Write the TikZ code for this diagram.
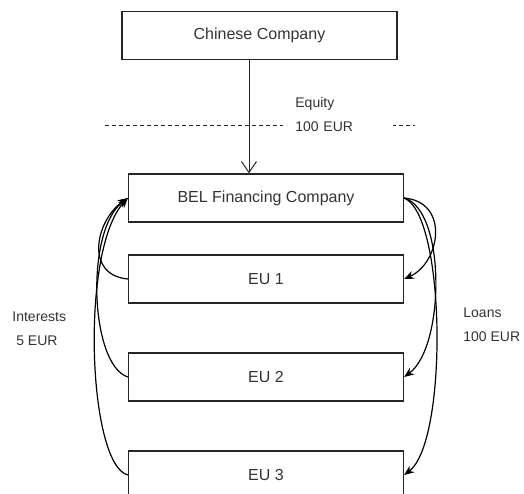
\documentclass[tikz,border=0pt]{standalone}
\usepackage{fontspec}
\setmainfont{Liberation Sans}
\usetikzlibrary{arrows.meta}

\begin{document}
\begin{tikzpicture}[x=0.5pt,y=-0.5pt,
    box/.style={draw=black!85,line width=0.6pt,minimum width=137.5pt,minimum height=24pt,
        inner sep=0pt,font=\fontsize{8}{9.6}\selectfont,text=black!80},
    lbl/.style={align=left,inner sep=0pt,font=\fontsize{7}{12}\selectfont,text=black!80},
    flow/.style={line width=0.6pt,-{Stealth[length=5pt,width=4pt]}}]
    \useasboundingbox (0,0) rectangle (524,493);
    % boxes
    \node[box] (chinese) at (259.5,35.5) {Chinese Company};
    \node[box] (bel) at (266,198) {BEL Financing Company};
    \foreach \i in {1,2,3}
        \node[box] (eu\i) at (266,279+98*\i-98) {EU \i};
    % equity
    \draw[black!85,line width=0.5pt,dash pattern=on 2pt off 1.5pt] (105,125) -- (415,125);
    \node[lbl,fill=white,anchor=west,inner xsep=6pt,inner ysep=3pt,text width=43pt] (equity) at (283,114) {Equity\\100 EUR};
    \draw[black!85,line width=0.5pt,-{Straight Barb[length=5.5pt,width=7.5pt,line width=0.5pt]}]
        ([xshift=-5.25pt]chinese.south) -- ([xshift=-5.25pt]chinese.south |- bel.north);
    % interests
    \draw[flow] (eu1.west) .. controls +(-44,-4) and +(-32,22) .. (bel.west);
    \draw[flow] (eu2.west) .. controls +(-38,-12) and +(-43,32) .. (bel.west);
    \draw[flow] (eu3.west) .. controls +(-40,-10) and +(-48,52) .. (bel.west);
    \node[lbl,anchor=west] (interests) at (12,328.5) {Interests\\\ 5 EUR};
    % loans
    \draw[flow] (bel.east) .. controls +(46,4) and +(36,-16) .. (eu1.east);
    \draw[flow] (bel.east) .. controls +(42,12) and +(41,-30) .. (eu2.east);
    \draw[flow] (bel.east) .. controls +(42,17) and +(44,-33) .. (eu3.east);
    \node[lbl,anchor=west] (loans) at (463,325) {Loans\\100 EUR};
\end{tikzpicture}
\end{document}
